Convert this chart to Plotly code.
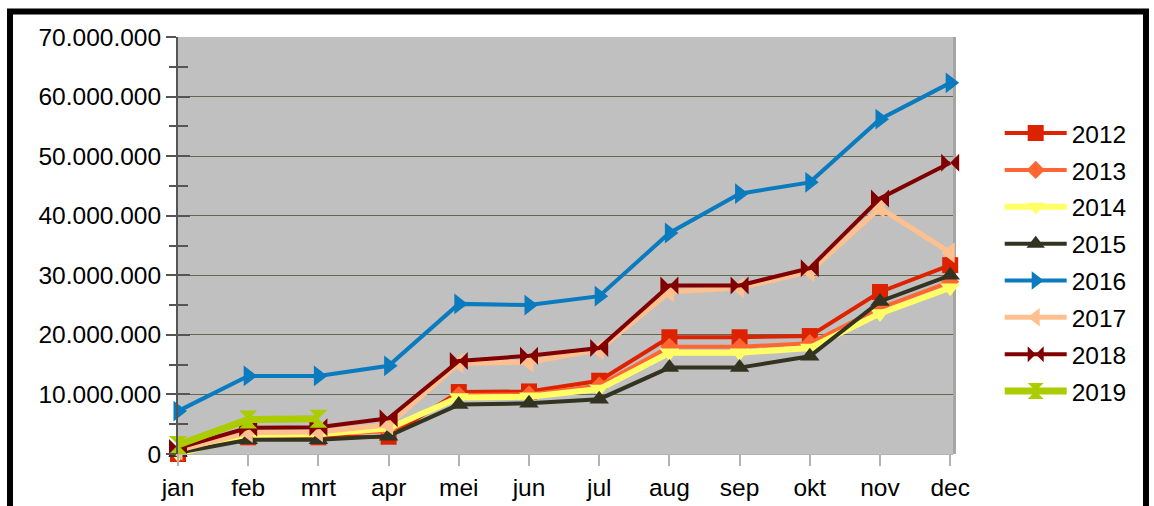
import plotly.graph_objects as go

months = ["jan", "feb", "mrt", "apr", "mei", "jun", "jul", "aug", "sep", "okt", "nov", "dec"]

y2012 = [0.0, 2.8, 2.8, 2.9, 10.4, 10.5, 12.3, 19.6, 19.6, 19.8, 27.2, 31.7]
y2013 = [0.3, 3.3, 3.3, 3.8, 9.9, 10.0, 11.5, 18.0, 18.0, 18.6, 24.5, 28.9]
y2014 = [0.0, 3.2, 3.3, 4.3, 9.5, 9.6, 10.9, 17.0, 17.0, 17.8, 23.6, 27.9]
y2015 = [0.2, 2.4, 2.4, 3.0, 8.3, 8.5, 9.2, 14.5, 14.5, 16.4, 25.6, 30.0]
y2016 = [7.2, 13.1, 13.1, 14.8, 25.2, 25.0, 26.5, 37.1, 43.7, 45.6, 56.2, 62.3]
y2017 = [0.6, 3.6, 3.7, 4.9, 15.2, 15.4, 17.5, 27.2, 27.9, 30.6, 41.3, 33.8]
y2018 = [1.0, 4.4, 4.5, 6.0, 15.6, 16.5, 17.8, 28.3, 28.3, 31.2, 42.9, 48.9]
y2019 = [1.5, 5.8, 5.9]

series_names = ["2012", "2013", "2014", "2015", "2016", "2017", "2018", "2019"]
series_values = [y2012, y2013, y2014, y2015, y2016, y2017, y2018, y2019]
colors = ["#dd2200", "#ff6633", "#ffff66", "#333322", "#0a7bbf", "#ffc08f", "#800000", "#aacc00"]
symbols = ["square", "diamond", "triangle-down", "triangle-up", "triangle-right",
           "triangle-left", "bowtie", "hourglass"]
widths = [4, 4, 6, 4, 4, 5, 4, 7]
sizes = [16, 14, 17, 17, 18, 18, 18, 18]

FONT = "Liberation Sans, Arial, sans-serif"
FS = 24.5

fig = go.Figure()
for name, vals, c, s, w, sz in zip(series_names, series_values, colors, symbols, widths, sizes):
    fig.add_trace(go.Scatter(
        x=months[:len(vals)], y=[v * 1e6 for v in vals], name=name, mode="lines+markers",
        line=dict(color=c, width=w), marker=dict(symbol=s, size=sz, color=c, line=dict(width=0)),
        cliponaxis=False, legendgroup=name,
    ))

# empty trace to register the overlay axis (inside ticks)
fig.add_trace(go.Scatter(x=[], y=[], yaxis="y2", showlegend=False, hoverinfo="skip"))

L, R, T, B = 178, 201, 37, 52
PW, PH = 1154 - L - R, 506 - T - B

fig.update_layout(
    width=1154, height=506,
    margin=dict(l=L, r=R, t=T, b=B, pad=0, autoexpand=False),
    paper_bgcolor="white", plot_bgcolor="#c0c0c0",
    separators=",.",
    font=dict(family=FONT, size=FS, color="black"),
    showlegend=True,
    legend=dict(x=(1009 - 178) / PW - 0.012, xanchor="left", y=0.46, yanchor="middle",
                font=dict(size=FS), itemwidth=62, tracegroupgap=2, bgcolor="rgba(0,0,0,0)"),
    xaxis=dict(type="category", categoryorder="array", categoryarray=months,
               range=[0, 11.04], showgrid=False, zeroline=False, automargin=False,
               showline=True, linecolor="#b3b3b3", linewidth=1,
               ticks="outside", ticklen=11, tickcolor="#b3b3b3", tickwidth=2,
               tickfont=dict(size=FS), ticklabelstandoff=1),
    yaxis=dict(range=[0, 70e6], dtick=10e6, tickformat=",d", showgrid=True, automargin=False,
               gridcolor="#66684e", gridwidth=1, zeroline=False,
               showline=True, linecolor="#555555", linewidth=2,
               ticks="outside", ticklen=10, tickcolor="#555555", tickwidth=2,
               minor=dict(dtick=5e6, ticks="outside", ticklen=7, tickcolor="#555555", tickwidth=2, showgrid=False),
               ticklabelstandoff=0, tickfont=dict(size=FS)),
    yaxis2=dict(range=[0, 70e6], dtick=10e6, overlaying="y", side="left", anchor="x", automargin=False,
                showgrid=False, zeroline=False, showline=False, showticklabels=False,
                ticks="inside", ticklen=12, tickcolor="#555555", tickwidth=2,
                minor=dict(dtick=5e6, ticks="inside", ticklen=10, tickcolor="#555555", tickwidth=2, showgrid=False)),
    shapes=[
        dict(type="rect", xref="paper", yref="paper", x0=1.0, x1=1 + 3 / PW, y0=0, y1=1,
             fillcolor="#a6a6a6", line=dict(width=0), layer="below"),
        dict(type="rect", xref="paper", yref="paper",
             x0=(10 - L) / PW, x1=(1146 - L) / PW, y0=-0.2, y1=(454 - 11.5) / PH,
             line=dict(color="black", width=6), fillcolor="rgba(0,0,0,0)"),
    ],
)

fig.write_html("out.html", config={"displayModeBar": False},
               post_script="document.body.style.margin='0px';document.body.style.overflow='hidden';")
